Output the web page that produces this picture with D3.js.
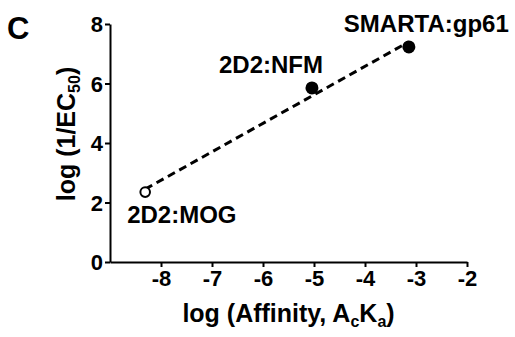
<!DOCTYPE html>
<html>
<head>
<meta charset="utf-8">
<script src="https://cdn.jsdelivr.net/npm/d3@7"></script>
<style>
  body { margin: 0; background: #fff; }
  svg { display: block; font-family: "Liberation Sans", Arial, sans-serif; font-weight: bold; }
</style>
</head>
<body>
<div id="chart"></div>
<script>
// values
const pairNames = ["2D2:MOG", "2D2:NFM", "SMARTA:gp61"];
const logAffinity = [-8.31, -5.04, -3.14];
const logPotency = [2.35, 5.85, 7.23];
const filled = [false, true, true];
const xTicks = [-8, -7, -6, -5, -4, -3, -2];
const yTicks = [0, 2, 4, 6, 8];

const width = 515;
const height = 337;
const margin = { top: 24, right: 48, bottom: 75, left: 110 };
const innerWidth = width - margin.left - margin.right;
const innerHeight = height - margin.top - margin.bottom;

const points = pairNames.map((name, i) => ({
  name,
  x: logAffinity[i],
  y: logPotency[i],
  filled: filled[i],
}));

const x = d3.scaleLinear().domain([-9, -2]).range([0, innerWidth]);
const y = d3.scaleLinear().domain([0, 8]).range([innerHeight, 0]);

// least squares fit drawn across the data range
const mx = d3.mean(points, (d) => d.x);
const my = d3.mean(points, (d) => d.y);
const slope =
  d3.sum(points, (d) => (d.x - mx) * (d.y - my)) /
  d3.sum(points, (d) => (d.x - mx) ** 2);
const fit = d3.extent(points, (d) => d.x).map((v) => ({ x: v, y: my + slope * (v - mx) }));

const svg = d3
  .select("#chart")
  .append("svg")
  .attr("width", width)
  .attr("height", height)
  .attr("viewBox", `0 0 ${width} ${height}`);

const root = svg.append("g").attr("transform", `translate(${margin.left},${margin.top})`);

// plain hyphen minus, like the original figure
const tickText = (v) => String(v);

const styleAxis = (axis) => {
  axis.select(".domain").attr("stroke", "#000").attr("stroke-width", 2);
  axis.selectAll(".tick line").attr("stroke", "#000").attr("stroke-width", 2);
  axis
    .selectAll(".tick text")
    .attr("fill", "#000")
    .attr("font-size", 22)
    .attr("font-family", "Liberation Sans, Arial, sans-serif")
    .attr("font-weight", "bold");
};

root
  .append("g")
  .attr("transform", `translate(0,${innerHeight})`)
  .call(d3.axisBottom(x).tickValues(xTicks).tickSize(5).tickSizeOuter(0).tickPadding(3).tickFormat(tickText))
  .call(styleAxis);

root
  .append("g")
  .call(d3.axisLeft(y).tickValues(yTicks).tickSize(5).tickSizeOuter(0).tickPadding(2).tickFormat(tickText))
  .call(styleAxis)
  .call((axis) => axis.selectAll(".tick text").attr("dy", "0.36em"));

const line = d3
  .line()
  .x((d) => x(d.x))
  .y((d) => y(d.y));

root
  .append("path")
  .datum(fit)
  .attr("fill", "none")
  .attr("stroke", "#000")
  .attr("stroke-width", 3)
  .attr("stroke-dasharray", "8 5")
  .attr("d", line);

root
  .selectAll(".pt")
  .data(points)
  .join("circle")
  .attr("class", "pt")
  .attr("cx", (d) => x(d.x))
  .attr("cy", (d) => y(d.y))
  .attr("r", (d) => (d.filled ? 6.5 : 4.8))
  .attr("fill", (d) => (d.filled ? "#000" : "#fff"))
  .attr("stroke", "#000")
  .attr("stroke-width", (d) => (d.filled ? 0 : 2));

// label offsets relative to each point
const labelDx = [-18, -93, -65];
const labelDy = [31, -15, -15];

root
  .selectAll(".lbl")
  .data(points)
  .join("text")
  .attr("class", "lbl")
  .attr("x", (d, i) => x(d.x) + labelDx[i])
  .attr("y", (d, i) => y(d.y) + labelDy[i])
  .attr("font-size", 24)
  .attr("fill", "#000")
  .text((d) => d.name);

// x axis title
const xTitle = svg
  .append("text")
  .attr("x", margin.left + innerWidth / 2)
  .attr("y", 322)
  .attr("text-anchor", "middle")
  .attr("font-size", 25)
  .attr("fill", "#000");
xTitle.append("tspan").text("log (Affinity, A");
xTitle.append("tspan").attr("font-size", 16).attr("dy", 5).text("c");
xTitle.append("tspan").attr("dy", -5).text("K");
xTitle.append("tspan").attr("font-size", 16).attr("dy", 5).text("a");
xTitle.append("tspan").attr("dy", -5).text(")");

// y axis title
const yTitle = svg
  .append("text")
  .attr("transform", "translate(75,134) rotate(-90)")
  .attr("text-anchor", "middle")
  .attr("font-size", 25)
  .attr("fill", "#000");
yTitle.append("tspan").text("log (1/EC");
yTitle.append("tspan").attr("font-size", 16).attr("dy", 5).text("50");
yTitle.append("tspan").attr("dy", -5).text(")");

svg
  .append("text")
  .attr("x", 7)
  .attr("y", 39)
  .attr("font-size", 31)
  .attr("fill", "#000")
  .text("C");
</script>
</body>
</html>
